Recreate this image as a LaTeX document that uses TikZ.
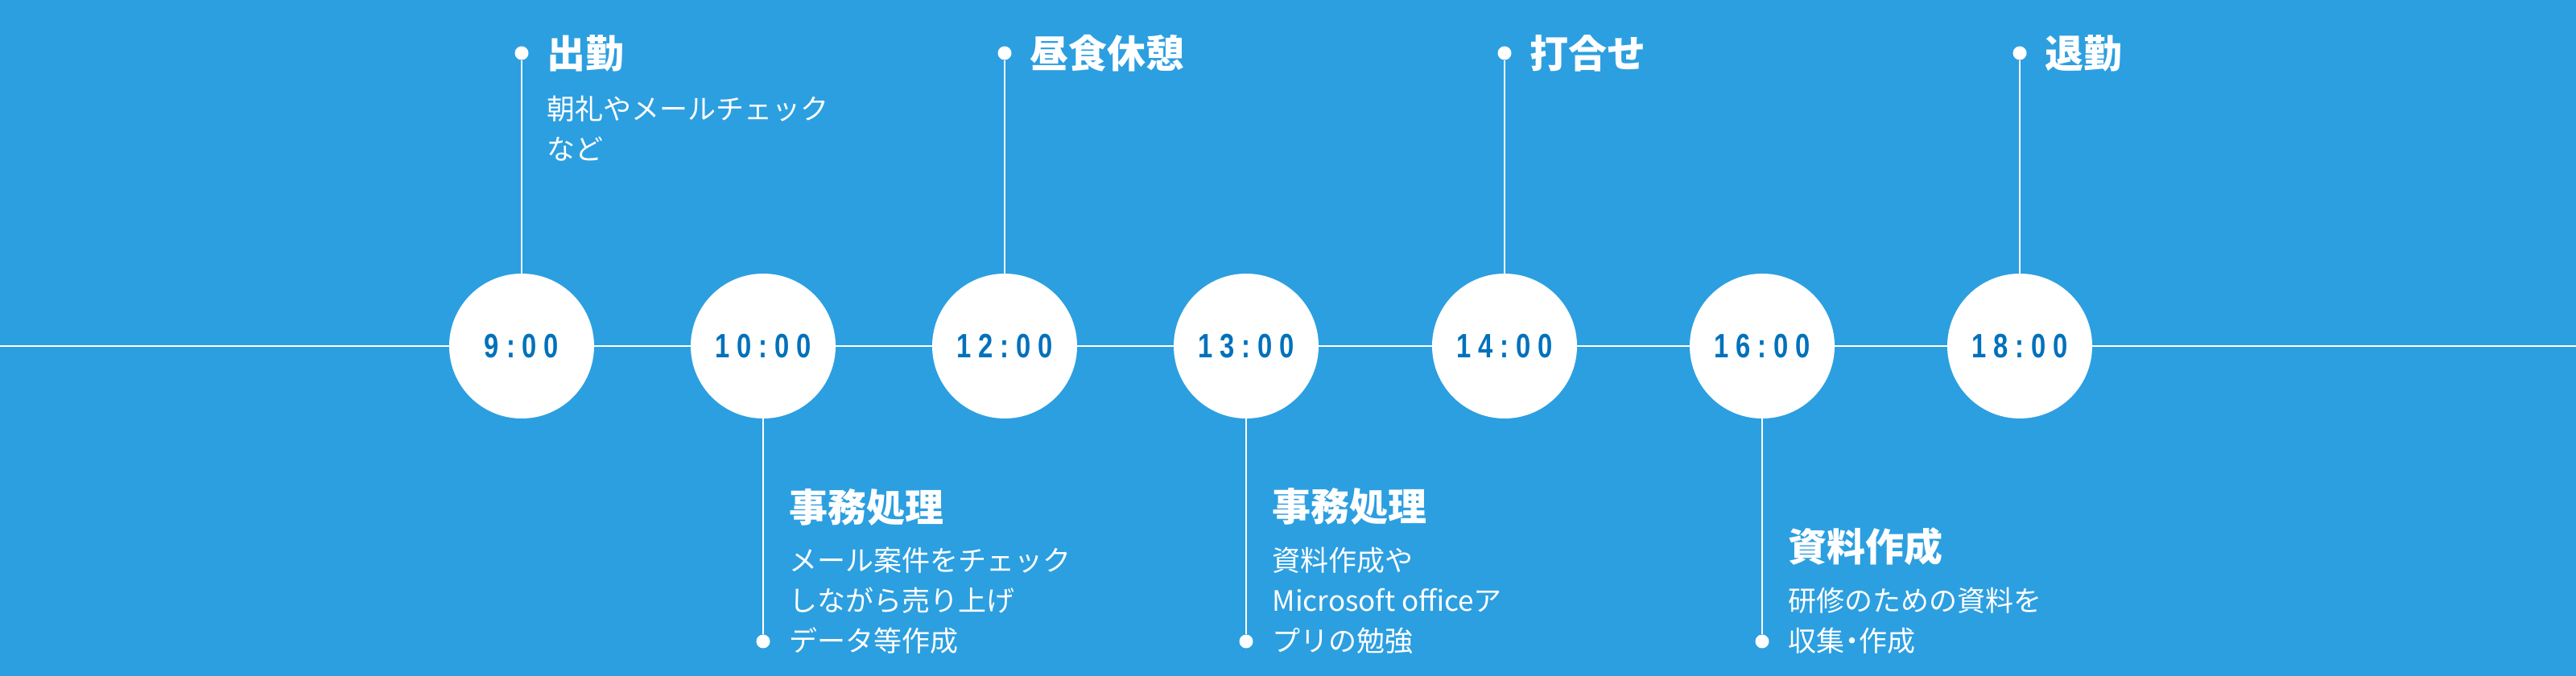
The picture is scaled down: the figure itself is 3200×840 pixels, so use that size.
\documentclass[tikz,border=0pt]{standalone}
\usepackage{fontspec}
\setmainfont{Noto Sans CJK JP}
\newfontfamily\timefont[FakeStretch=0.78,LetterSpace=21]{Liberation Sans}
\usetikzlibrary{positioning}
\definecolor{sky}{HTML}{2C9FE0}
\definecolor{clockblue}{HTML}{0071BC}

\begin{document}
\begin{tikzpicture}[x=1pt,y=1pt,
      clock/.style={circle,fill=white,minimum size=180pt,inner sep=0pt,
        text=clockblue,font=\timefont\bfseries\fontsize{42}{42}\selectfont},
      pin/.style={circle,fill=white,minimum size=17pt,inner sep=0pt},
      stem/.style={draw=white,line width=2.5pt},
      headline/.style={text=white,inner sep=0pt,anchor=west,
        font=\bfseries\fontsize{48}{48}\selectfont},
      memo/.style={text=white,inner sep=0pt,align=left,
        font=\fontsize{35}{50}\selectfont}]
      % Background
      \fill[sky] (0,0) rectangle (3200,840);
      \useasboundingbox (0,0) rectangle (3200,840);
      % Time line
      \coordinate (west) at (0,410);
      \coordinate (east) at (3200,410);
      \draw[stem] (west) -- (east);
      % Clocks
      \node[clock] (t9) at (648,410) {9:00};
      \node[clock] (t10) at (948,410) {10:00};
      \node[clock] (t12) at (1248,410) {12:00};
      \node[clock] (t13) at (1548,410) {13:00};
      \node[clock] (t14) at (1869,410) {14:00};
      \node[clock] (t16) at (2189,410) {16:00};
      \node[clock] (t18) at (2509,410) {18:00};
      % Pins above the line
      \node[pin] (p9) at (648,774) {};
      \node[headline,right=23pt of p9] (h9) {出勤};
      \node[memo,below right=30pt and 0pt of h9.south west] (m9) {朝礼やメールチェック\\など};
      \draw[stem] (p9) -- (t9);
      \node[pin] (p12) at (1248,774) {};
      \node[headline,right=23pt of p12] (h12) {昼食休憩};
      \draw[stem] (p12) -- (t12);
      \node[pin] (p14) at (1869,774) {};
      \node[headline,right=23pt of p14] (h14) {打合せ};
      \draw[stem] (p14) -- (t14);
      \node[pin] (p18) at (2509,774) {};
      \node[headline,right=23pt of p18] (h18) {退勤};
      \draw[stem] (p18) -- (t18);
      % Pins below the line
      \node[pin] (p10) at (948,43) {};
      \node[memo,anchor=south west] (m10) at ([xshift=24pt,yshift=-16pt]p10.east)
        {メール案件をチェック\\しながら売り上げ\\データ等作成};
      \node[headline,above right=27pt and 0pt of m10.north west] (h10) {事務処理};
      \draw[stem] (t10) -- (p10);
      \node[pin] (p13) at (1548,43) {};
      \node[memo,anchor=south west] (m13) at ([xshift=24pt,yshift=-16pt]p13.east)
        {資料作成や\\Microsoft officeア\\プリの勉強};
      \node[headline,above right=27pt and 0pt of m13.north west] (h13) {事務処理};
      \draw[stem] (t13) -- (p13);
      \node[pin] (p16) at (2189,43) {};
      \node[memo,anchor=south west] (m16) at ([xshift=24pt,yshift=-16pt]p16.east)
        {研修のための資料を\\収集{\addfontfeature{RawFeature=+halt}・}作成};
      \node[headline,above right=27pt and 0pt of m16.north west] (h16) {資料作成};
      \draw[stem] (t16) -- (p16);
\end{tikzpicture}
\end{document}
